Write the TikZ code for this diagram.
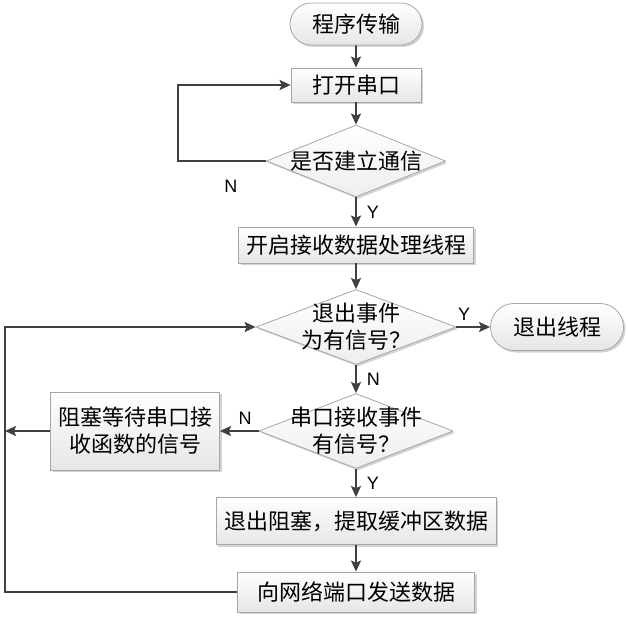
\documentclass[tikz,border=0pt]{standalone}
\usepackage{fontspec}
\setmainfont{Liberation Sans}
\newfontfamily\cjk{Noto Sans CJK SC}
\usepackage{tikz}
\usetikzlibrary{positioning, shapes.geometric, shapes.misc, arrows.meta, shadows}
\usepackage{xcolor}
\definecolor{fcline}{HTML}{404040}
\definecolor{fcedge}{HTML}{A6A6A6}
\definecolor{fcfill}{HTML}{E6E6E6}

\begin{document}
\begin{tikzpicture}[x=1pt, y=-1pt,
    txt/.style={font=\cjk\fontsize{22}{27}\selectfont, text=black},
    boxlook/.style={draw=fcedge, line width=0.8pt, top color=white, bottom color=fcfill,
        drop shadow={shadow xshift=2pt, shadow yshift=-2pt, fill=gray, opacity=0.35}},
    term/.style={rounded rectangle, boxlook, txt, inner sep=0pt},
    proc/.style={rectangle, boxlook, txt, inner sep=0pt},
    decide/.style={diamond, boxlook, bottom color=fcfill!70, inner sep=0pt},
    flow/.style={draw=fcline, line width=1.8pt, -{Stealth[length=11pt, width=10pt, inset=2pt]}},
    yn/.style={font=\fontsize{18}{20}\selectfont, text=black, inner sep=1pt}]

  \useasboundingbox (0,0) rectangle (626,617);

  % main column
  \node[term, minimum width=132pt, minimum height=42pt] (start) at (356,24) {程序传输};
  \node[proc, minimum width=130pt, minimum height=34pt] (open) at (356,85) {打开串口};
  \node[decide, minimum width=179pt, minimum height=72pt,
        label={[txt]center:是否建立通信}] (conn) at (356,161) {};
  \node[proc, minimum width=235pt, minimum height=36pt] (thread) at (356,245) {开启接收数据处理线程};
  \node[decide, minimum width=200pt, minimum height=75pt,
        label={[txt, align=center]center:退出事件\\为有信号？}] (quit) at (356,327) {};
  \node[term, minimum width=133pt, minimum height=47pt] (exitT) at (557,327) {退出线程};
  \node[decide, minimum width=194pt, minimum height=75pt,
        label={[txt, align=center]center:串口接收事件\\有信号？}] (recv) at (356,431) {};
  \node[proc, minimum width=169pt, minimum height=78pt, align=center] (block) at (135,431)
        {阻塞等待串口接\\收函数的信号};
  \node[proc, minimum width=280pt, minimum height=47pt] (fetch) at (356,521) {退出阻塞，提取缓冲区数据};
  \node[proc, minimum width=237pt, minimum height=40pt] (send) at (356,592) {向网络端口发送数据};

  % turning points of the loops
  \coordinate (backN) at (178,85);
  \coordinate (lftmid) at (5,431);
  \coordinate (lft) at (5,592);

  \draw[flow] (start) -- (open);
  \draw[flow] (open) -- (conn);
  \draw[flow] (conn) -| node[yn, pos=0.2, below=17pt] {N} (backN) -- (open);
  \draw[flow] (conn) -- node[yn, right=9pt] {Y} (thread);
  \draw[flow] (thread) -- (quit);
  \draw[flow] (quit) -- node[yn, pos=0.23, above=5pt] {Y} (exitT);
  \draw[flow] (quit) -- node[yn, right=9pt] {N} (recv);
  \draw[flow] (recv) -- node[yn, pos=0.35, above=5pt] {N} (block);
  \draw[flow] (block) -- (lftmid);
  \draw[flow] (recv) -- node[yn, right=9pt] {Y} (fetch);
  \draw[flow] (fetch) -- (send);
  \draw[flow] (send) -- (lft) |- (quit);
\end{tikzpicture}
\end{document}
